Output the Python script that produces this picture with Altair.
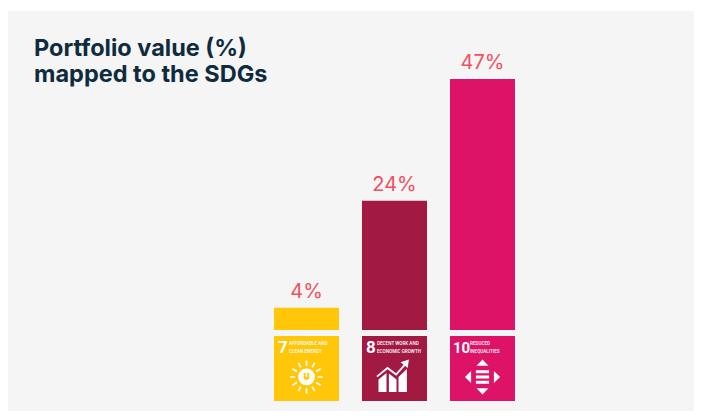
import altair as alt
import pandas as pd

goals = ["SDG 7", "SDG 8", "SDG 10"]
shares = [4.15, 24.2, 47]
labels = ["4%", "24%", "47%"]
colors = ["#FFC60A", "#A21942", "#DD1367"]
numbers = ["7", "8", "10"]
line1 = ["AFFORDABLE AND", "DECENT WORK AND", "REDUCED"]
line2 = ["CLEAN ENERGY", "ECONOMIC GROWTH", "INEQUALITIES"]
title_lines = ["Portfolio value (%)", "mapped to the SDGs"]
icon_top = -1.12
icon_bottom = -13.3
icon_centre = -8.8

rays = ("M0,-.56 L0,-.82 M.28,-.48 L.41,-.71 M.48,-.28 L.71,-.41 M.56,0 L.82,0 "
        "M.48,.28 L.71,.41 M.28,.48 L.41,.71 M0,.56 L0,.82 M-.28,.48 L-.41,.71 "
        "M-.48,.28 L-.71,.41 M-.56,0 L-.82,0 M-.48,-.28 L-.71,-.41 M-.28,-.48 L-.41,-.71")
ring = "M-.32,0 A.32,.32 0 1 1 .32,0 A.32,.32 0 1 1 -.32,0"
power = "M-.13,-.12 A.18,.18 0 1 0 .13,-.12 M0,-.22 L0,0"
growth_bars = ("M-.8,.75 L-.8,.12 L-.4,-.2 L-.4,.75 Z M-.28,.75 L-.28,-.17 L.1,.12 L.1,.75 Z "
               "M.2,.75 L.2,.0 L.62,-.4 L.62,.75 Z")
growth_line = "M-.88,-.02 L-.35,-.45 L.08,-.12 L.52,-.62"
growth_head = "M.3,-.74 L.72,-.88 L.66,-.45 Z"
inequal = ("M0,-.88 L.3,-.56 L-.3,-.56 Z M0,.88 L.3,.56 L-.3,.56 Z M-.88,0 L-.57,-.3 L-.57,.3 Z "
           "M.88,0 L.57,-.3 L.57,.3 Z M-.33,-.34 L.33,-.34 L.33,-.19 L-.33,-.19 Z "
           "M-.33,-.07 L.33,-.07 L.33,.07 L-.33,.07 Z M-.33,.19 L.33,.19 L.33,.34 L-.33,.34 Z")

df = pd.DataFrame({"goal": goals, "share": shares, "label": labels, "color": colors,
                   "number": numbers, "l1": line1, "l2": line2,
                   "top": [icon_top] * 3, "bottom": [icon_bottom] * 3, "zero": [0] * 3,
                   "centre": [icon_centre] * 3})

x = alt.X("goal:N", sort=goals, axis=None,
          scale=alt.Scale(domain=goals, range=[266, 507], paddingInner=23 / 88, paddingOuter=0))
yscale = alt.Scale(domain=[-15.17, 59.74], range=[400, 0], nice=False, zero=False)
y = alt.Y("share:Q", axis=None, scale=yscale)
ytop = alt.Y("top:Q", axis=None, scale=yscale)
yc = alt.Y("centre:Q", axis=None, scale=yscale)
col = alt.Color("color:N", scale=None, legend=None)
base = alt.Chart(df)

bars = base.mark_bar(cornerRadius=0).encode(x=x, y=y, y2="zero:Q", color=col)
value_text = base.mark_text(font="Inter", fontSize=20, fontWeight=400, color="#F0505F", baseline="bottom", dy=-6).encode(
    x=x, y=y, text="label:N")
squares = base.mark_bar().encode(x=x, y=ytop, y2="bottom:Q", color=col)

layers = [bars, value_text, squares]
number_dx = [-28.5, -28.5, -29.5]
number_size = [17, 17, 15]
text_dx = [-17.5, -17.5, -12.5]
for i, g in enumerate(goals):
    b = alt.Chart(df[df.goal == g])
    layers.append(b.mark_text(font="Roboto", fontWeight="bold", fontSize=number_size[i], color="white", align="left",
                              baseline="middle", dx=number_dx[i], dy=12).encode(x=x, y=ytop, text="number:N"))
    layers.append(b.mark_text(font="Roboto", fontWeight=500, fontSize=4.6, color="#FFFFFF", align="left",
                              baseline="middle", dx=text_dx[i], dy=8).encode(x=x, y=ytop, text="l1:N"))
    layers.append(b.mark_text(font="Roboto", fontWeight=500, fontSize=4.6, color="#FFFFFF", align="left",
                              baseline="middle", dx=text_dx[i], dy=16).encode(x=x, y=ytop, text="l2:N"))


def glyph(i, shape, **kw):
    d = df[df.goal == goals[i]]
    return alt.Chart(d).mark_point(shape=shape, size=1600, opacity=1, **kw).encode(x=x, y=yc)


layers += [
    glyph(0, rays, filled=False, stroke="white", strokeWidth=1.7),
    glyph(0, ring, filled=False, stroke="white", strokeWidth=4),
    glyph(0, power, filled=False, stroke="white", strokeWidth=1.6),
    glyph(1, growth_bars, filled=True, fill="white", strokeWidth=0),
    glyph(1, growth_line, filled=False, stroke="white", strokeWidth=1.8),
    glyph(1, growth_head, filled=True, fill="white", strokeWidth=0),
    glyph(2, inequal, filled=True, fill="white", strokeWidth=0),
]

chart = alt.layer(*layers).properties(
    width=686, height=400,
    padding={"left": 0, "top": 3, "right": 0, "bottom": 0},
    autosize=alt.AutoSizeParams(type="none"),
    background="white",
    title=alt.TitleParams(title_lines, anchor="start", frame="group", font="Inter", fontSize=23.5, fontWeight=700,
                          color="#0F2B3D", lineHeight=26, dx=26, dy=75, offset=0),
).configure_view(fill="#F5F5F5", stroke=None)

chart.save("out.html", embed_options={"renderer": "svg", "actions": False})
